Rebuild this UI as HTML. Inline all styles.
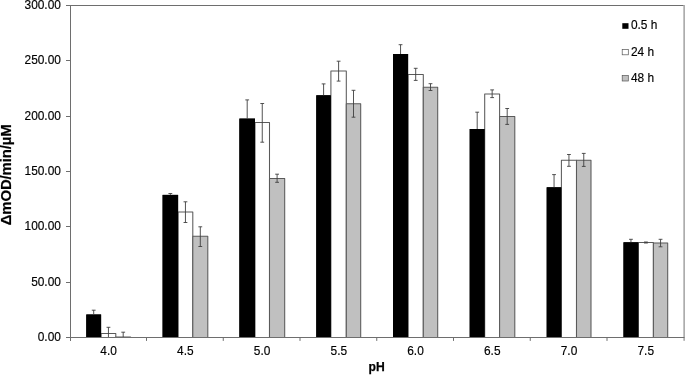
<!DOCTYPE html>
<html lang="en"><head><meta charset="utf-8"><title>pH activity chart</title>
<style>html,body{margin:0;padding:0;background:#fff}body{width:685px;height:375px;overflow:hidden}</style></head>
<body>
<svg width="685" height="375" viewBox="0 0 685 375" style="display:block">
<rect width="685" height="375" fill="#fff"/>
<rect x="86.30" y="314.50" width="14.80" height="23.50" fill="#000"/>
<rect x="101.10" y="333.50" width="14.70" height="4.00" fill="#ffffff" stroke="#5a5a5a" stroke-width="1.05" stroke-linejoin="round"/>
<rect x="115.80" y="337.00" width="14.80" height="0.50" fill="#c0c0c0" stroke="#5a5a5a" stroke-width="1.05" stroke-linejoin="round"/>
<rect x="86.30" y="314.50" width="14.80" height="23.50" fill="#000"/>
<path d="M93.70 310.20V314.50M91.80 310.20H95.60" stroke="#404040" stroke-width="0.9" fill="none"/>
<path d="M108.45 327.30V337.50M106.55 327.30H110.35" stroke="#404040" stroke-width="0.9" fill="none"/>
<path d="M123.20 332.20V337.50M121.30 332.20H125.10" stroke="#404040" stroke-width="0.9" fill="none"/>
<rect x="162.60" y="194.90" width="15.50" height="143.10" fill="#000"/>
<rect x="178.10" y="211.90" width="14.70" height="125.60" fill="#ffffff" stroke="#5a5a5a" stroke-width="1.05" stroke-linejoin="round"/>
<rect x="192.80" y="236.30" width="15.00" height="101.20" fill="#c0c0c0" stroke="#5a5a5a" stroke-width="1.05" stroke-linejoin="round"/>
<rect x="162.60" y="194.90" width="15.50" height="143.10" fill="#000"/>
<path d="M170.35 193.50V194.90M168.45 193.50H172.25" stroke="#404040" stroke-width="0.9" fill="none"/>
<path d="M185.45 201.80V222.50M183.55 201.80H187.35M183.55 222.50H187.35" stroke="#404040" stroke-width="0.9" fill="none"/>
<path d="M200.30 226.80V246.50M198.40 226.80H202.20M198.40 246.50H202.20" stroke="#404040" stroke-width="0.9" fill="none"/>
<rect x="239.40" y="118.60" width="15.60" height="219.40" fill="#000"/>
<rect x="255.00" y="122.50" width="14.50" height="215.00" fill="#ffffff" stroke="#5a5a5a" stroke-width="1.05" stroke-linejoin="round"/>
<rect x="269.50" y="178.40" width="15.20" height="159.10" fill="#c0c0c0" stroke="#5a5a5a" stroke-width="1.05" stroke-linejoin="round"/>
<rect x="239.40" y="118.60" width="15.60" height="219.40" fill="#000"/>
<path d="M247.20 99.90V118.60M245.30 99.90H249.10" stroke="#404040" stroke-width="0.9" fill="none"/>
<path d="M262.25 103.50V142.20M260.35 103.50H264.15M260.35 142.20H264.15" stroke="#404040" stroke-width="0.9" fill="none"/>
<path d="M277.10 174.20V182.30M275.20 174.20H279.00M275.20 182.30H279.00" stroke="#404040" stroke-width="0.9" fill="none"/>
<rect x="316.30" y="95.30" width="14.60" height="242.70" fill="#000"/>
<rect x="330.90" y="71.00" width="15.40" height="266.50" fill="#ffffff" stroke="#5a5a5a" stroke-width="1.05" stroke-linejoin="round"/>
<rect x="346.30" y="103.80" width="14.40" height="233.70" fill="#c0c0c0" stroke="#5a5a5a" stroke-width="1.05" stroke-linejoin="round"/>
<rect x="316.30" y="95.30" width="14.60" height="242.70" fill="#000"/>
<path d="M323.60 83.90V95.30M321.70 83.90H325.50" stroke="#404040" stroke-width="0.9" fill="none"/>
<path d="M338.60 61.20V81.10M336.70 61.20H340.50M336.70 81.10H340.50" stroke="#404040" stroke-width="0.9" fill="none"/>
<path d="M353.50 90.30V117.20M351.60 90.30H355.40M351.60 117.20H355.40" stroke="#404040" stroke-width="0.9" fill="none"/>
<rect x="393.00" y="54.00" width="15.10" height="284.00" fill="#000"/>
<rect x="408.10" y="74.40" width="15.20" height="263.10" fill="#ffffff" stroke="#5a5a5a" stroke-width="1.05" stroke-linejoin="round"/>
<rect x="423.30" y="87.30" width="14.40" height="250.20" fill="#c0c0c0" stroke="#5a5a5a" stroke-width="1.05" stroke-linejoin="round"/>
<rect x="393.00" y="54.00" width="15.10" height="284.00" fill="#000"/>
<path d="M400.55 44.70V54.00M398.65 44.70H402.45" stroke="#404040" stroke-width="0.9" fill="none"/>
<path d="M415.70 68.30V80.40M413.80 68.30H417.60M413.80 80.40H417.60" stroke="#404040" stroke-width="0.9" fill="none"/>
<path d="M430.50 83.70V90.50M428.60 83.70H432.40M428.60 90.50H432.40" stroke="#404040" stroke-width="0.9" fill="none"/>
<rect x="469.70" y="129.00" width="15.00" height="209.00" fill="#000"/>
<rect x="484.70" y="93.90" width="14.90" height="243.60" fill="#ffffff" stroke="#5a5a5a" stroke-width="1.05" stroke-linejoin="round"/>
<rect x="499.60" y="116.50" width="15.20" height="221.00" fill="#c0c0c0" stroke="#5a5a5a" stroke-width="1.05" stroke-linejoin="round"/>
<rect x="469.70" y="129.00" width="15.00" height="209.00" fill="#000"/>
<path d="M477.20 112.20V129.00M475.30 112.20H479.10" stroke="#404040" stroke-width="0.9" fill="none"/>
<path d="M492.15 89.90V97.60M490.25 89.90H494.05M490.25 97.60H494.05" stroke="#404040" stroke-width="0.9" fill="none"/>
<path d="M507.20 108.50V124.40M505.30 108.50H509.10M505.30 124.40H509.10" stroke="#404040" stroke-width="0.9" fill="none"/>
<rect x="546.70" y="187.30" width="14.70" height="150.70" fill="#000"/>
<rect x="561.40" y="160.20" width="15.10" height="177.30" fill="#ffffff" stroke="#5a5a5a" stroke-width="1.05" stroke-linejoin="round"/>
<rect x="576.50" y="160.20" width="14.50" height="177.30" fill="#c0c0c0" stroke="#5a5a5a" stroke-width="1.05" stroke-linejoin="round"/>
<rect x="546.70" y="187.30" width="14.70" height="150.70" fill="#000"/>
<path d="M554.05 174.60V187.30M552.15 174.60H555.95" stroke="#404040" stroke-width="0.9" fill="none"/>
<path d="M568.95 154.50V166.30M567.05 154.50H570.85M567.05 166.30H570.85" stroke="#404040" stroke-width="0.9" fill="none"/>
<path d="M583.75 153.40V166.40M581.85 153.40H585.65M581.85 166.40H585.65" stroke="#404040" stroke-width="0.9" fill="none"/>
<rect x="623.50" y="242.30" width="14.90" height="95.70" fill="#000"/>
<rect x="638.40" y="242.50" width="15.00" height="95.00" fill="#ffffff" stroke="#5a5a5a" stroke-width="1.05" stroke-linejoin="round"/>
<rect x="653.40" y="242.90" width="14.30" height="94.60" fill="#c0c0c0" stroke="#5a5a5a" stroke-width="1.05" stroke-linejoin="round"/>
<rect x="623.50" y="242.30" width="14.90" height="95.70" fill="#000"/>
<path d="M630.95 239.30V242.30M629.05 239.30H632.85" stroke="#404040" stroke-width="0.9" fill="none"/>
<path d="M645.90 242.00V243.00M644.00 242.00H647.80M644.00 243.00H647.80" stroke="#404040" stroke-width="0.9" fill="none"/>
<path d="M660.55 239.30V246.80M658.65 239.30H662.45M658.65 246.80H662.45" stroke="#404040" stroke-width="0.9" fill="none"/>
<path d="M70.5 5.5H684.5" stroke="#6e6e6e" stroke-width="1" fill="none"/>
<rect x="683.3" y="5" width="2" height="335.8" fill="#adadad"/>
<path d="M70.5 5.0V341.0M66.0 337.5H684.5" stroke="#6e6e6e" stroke-width="1" fill="none"/>
<path d="M66.0 337.50H70.5M66.0 282.50H70.5M66.0 226.50H70.5M66.0 171.50H70.5M66.0 116.50H70.5M66.0 60.50H70.5M66.0 5.50H70.5" stroke="#6e6e6e" stroke-width="1" fill="none"/>
<path d="M146.50 337.5V340.9M223.25 337.5V340.9M300.00 337.5V340.9M376.75 337.5V340.9M453.50 337.5V340.9M530.25 337.5V340.9M607.00 337.5V340.9" stroke="#6e6e6e" stroke-width="1" fill="none"/>
<g font-family="Liberation Sans, Arial, sans-serif" font-size="11.9" fill="#000" stroke="#000" stroke-width="0.15">
<text x="60.9" y="341.10" text-anchor="end">0.00</text>
<text x="60.9" y="286.10" text-anchor="end">50.00</text>
<text x="60.9" y="230.10" text-anchor="end">100.00</text>
<text x="60.9" y="175.10" text-anchor="end">150.00</text>
<text x="60.9" y="120.10" text-anchor="end">200.00</text>
<text x="60.9" y="64.10" text-anchor="end">250.00</text>
<text x="60.9" y="9.10" text-anchor="end">300.00</text>
<text x="108.57" y="355.2" text-anchor="middle">4.0</text>
<text x="185.31" y="355.2" text-anchor="middle">4.5</text>
<text x="262.05" y="355.2" text-anchor="middle">5.0</text>
<text x="338.79" y="355.2" text-anchor="middle">5.5</text>
<text x="415.53" y="355.2" text-anchor="middle">6.0</text>
<text x="492.27" y="355.2" text-anchor="middle">6.5</text>
<text x="569.01" y="355.2" text-anchor="middle">7.0</text>
<text x="645.75" y="355.2" text-anchor="middle">7.5</text>
<text x="630.9" y="29.35">0.5 h</text>
<text x="630.9" y="55.50">24 h</text>
<text x="630.9" y="81.65">48 h</text>
</g>
<rect x="622.3" y="23.2" width="6.2" height="5.6" fill="#000"/>
<rect x="622.2" y="49.4" width="6.1" height="5.4" fill="#fff" stroke="#555" stroke-width="0.7"/>
<rect x="622.2" y="75.6" width="6.1" height="5.4" fill="#c0c0c0" stroke="#555" stroke-width="0.7"/>
<g font-family="Liberation Sans, Arial, sans-serif" font-size="13.3" font-weight="bold" fill="#000">
<text x="368.6" y="371.2" textLength="16.2" lengthAdjust="spacingAndGlyphs" stroke="#000" stroke-width="0.25">pH</text>
<text transform="translate(11.0 225.2) rotate(-90)" font-size="14.9" textLength="100.8" lengthAdjust="spacing" stroke="#000" stroke-width="0.2">ΔmOD/min/µM</text>
</g>
</svg>
</body></html>
